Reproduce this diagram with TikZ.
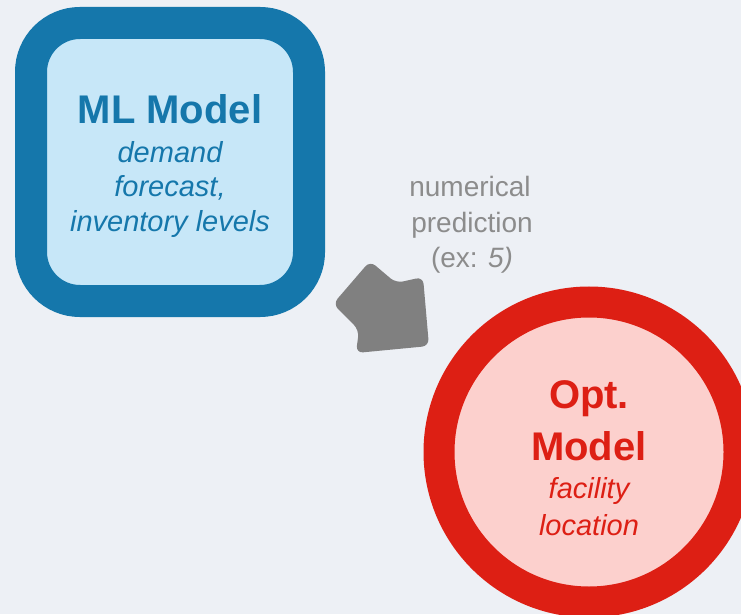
\documentclass[tikz,border=0pt]{standalone}
\usepackage{fontspec}
\setmainfont{Liberation Sans}
\definecolor{bg}{HTML}{EDF0F5}
\definecolor{mlblue}{HTML}{1577AB}
\definecolor{mlfill}{HTML}{C7E7F8}
\definecolor{optred}{HTML}{DD1F14}
\definecolor{optfill}{HTML}{FCD0CD}
\definecolor{arrowgray}{HTML}{808080}
\definecolor{labelgray}{HTML}{8C8C8C}
\tikzset{
  mlbox/.style={draw=mlblue, fill=mlfill, line width=32pt, rounded corners=49pt,
    minimum width=278pt, minimum height=278pt, inner sep=0pt},
  optcirc/.style={circle, draw=optred, fill=optfill, line width=31pt,
    minimum size=300pt, inner sep=0pt},
  titletext/.style={font=\fontsize{40}{48}\selectfont\bfseries, anchor=base, inner sep=0pt},
  subtext/.style={font=\fontsize{29}{34}\selectfont\itshape, anchor=base, inner sep=0pt},
  labeltext/.style={font=\fontsize{28}{34}\selectfont, text=labelgray, anchor=base, inner sep=0pt},
  blockarrow/.style={fill=arrowgray, rounded corners=7pt}
}
\begin{document}
\begin{tikzpicture}[x=1pt,y=1pt]
\useasboundingbox (0,0) rectangle (741,614);
\clip (0,0) rectangle (741,614);
\fill[bg] (0,0) rectangle (741,614);
% ML model box
\node[mlbox] (ml) at (170,452) {};
\node[titletext, text=mlblue] (mlt) at (170,490) {ML Model};
\node[subtext, text=mlblue] (ml1) at (170,451) {demand};
\node[subtext, text=mlblue] (ml2) at (170,417) {forecast,};
\node[subtext, text=mlblue] (ml3) at (170,382) {inventory levels};
% Opt model circle
\node[optcirc] (opt) at (589,162) {};
\node[titletext, text=optred] (opt1) at (589,206) {Opt.};
\node[titletext, text=optred] (opt2) at (589,154) {Model};
\node[subtext, text=optred] (opt3) at (589,116) {facility};
\node[subtext, text=optred] (opt4) at (589,79) {location};
% label
\node[labeltext] (lab1) at (470,417) {numerical};
\node[labeltext] (lab2) at (472,381) {prediction};
\node[labeltext] (lab3) at (472,346) {(ex: \textit{5)}};
% block arrow
\fill[blockarrow] (370,353) -- (333,310) -- (359,284) -- (356,261) -- (429,268)
  -- (423,337) -- (396,331) -- cycle;
\end{tikzpicture}
\end{document}
